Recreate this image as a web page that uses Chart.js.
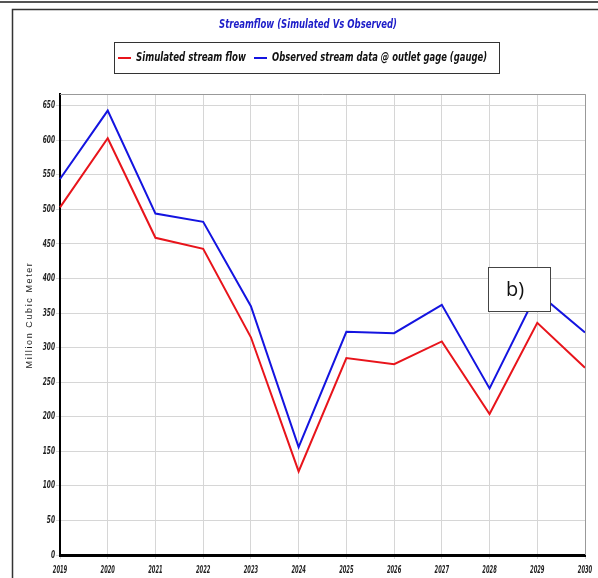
<!DOCTYPE html>
<html>
<head>
<meta charset="utf-8">
<script src="https://cdn.jsdelivr.net/npm/chart.js@4.4.1/dist/chart.umd.min.js"></script>
<style>
  html, body { margin: 0; padding: 0; background: #fff; }
  #wrap { width: 598px; height: 578px; }
</style>
</head>
<body>
<div id="wrap"><canvas id="flowChart" width="598" height="578"></canvas></div>
<script>
const years = ['2019', '2020', '2021', '2022', '2023', '2024', '2025', '2026', '2027', '2028', '2029', '2030'];
const simulated = [503, 603, 459, 443, 315, 121, 285, 276, 309, 204, 336, 271];
const observed = [544, 643, 494, 482, 360, 156, 323, 321, 362, 241, 380, 322];

const chartTitle = 'Streamflow (Simulated Vs Observed)';
const yTitle = 'Million Cubic Meter';
const panelLabel = 'b)';

const narrow = "'DejaVu Sans Condensed', 'Liberation Sans', sans-serif";

// the source uses a very narrow face, so text is squeezed with fillText's maxWidth
function squeeze(ctx, text, x, y, perChar) {
    const w = ctx.measureText(text).width;
    ctx.fillText(text, x, y, Math.min(w, text.length * perChar));
}

const decorations = {
    id: 'decorations',
    beforeDraw(chart) {
        const ctx = chart.ctx;
        ctx.save();
        ctx.fillStyle = '#fff';
        ctx.fillRect(0, 0, chart.width, chart.height);
        ctx.strokeStyle = '#555';
        ctx.lineWidth = 2;
        ctx.beginPath();
        ctx.moveTo(0, 2); ctx.lineTo(chart.width, 2);
        ctx.stroke();
        ctx.lineWidth = 1.5;
        ctx.strokeStyle = '#333';
        ctx.beginPath();
        ctx.moveTo(chart.width, 9.5); ctx.lineTo(12.5, 9.5); ctx.lineTo(12.5, chart.height);
        ctx.stroke();
        ctx.restore();
    },
    afterDraw(chart) {
        const ctx = chart.ctx;
        const a = chart.chartArea;
        ctx.save();

        // top and right edges of the plot
        ctx.strokeStyle = '#999';
        ctx.lineWidth = 1;
        ctx.beginPath();
        ctx.moveTo(a.left, a.top + 0.5); ctx.lineTo(a.right + 0.5, a.top + 0.5); ctx.lineTo(a.right + 0.5, a.bottom);
        ctx.stroke();

        // tick labels, placed by the scales
        ctx.fillStyle = '#222';
        ctx.font = "italic bold 10px " + narrow;
        ctx.textBaseline = 'middle';
        const xs = chart.scales.x;
        ctx.textAlign = 'center';
        xs.ticks.forEach((t, i) => {
            squeeze(ctx, xs.getLabelForValue(t.value), xs.getPixelForTick(i), 570, 3.6);
        });
        const ys = chart.scales.y;
        ctx.textAlign = 'right';
        ys.ticks.forEach((t, i) => {
            squeeze(ctx, String(t.value), 55, ys.getPixelForTick(i), 4.1);
        });

        // title
        ctx.fillStyle = '#1c1cc8';
        ctx.font = "italic bold 13px " + narrow;
        ctx.textAlign = 'center';
        ctx.fillText(chartTitle, 308, 25, 178);

        // legend
        ctx.strokeStyle = '#333';
        ctx.lineWidth = 1;
        ctx.strokeRect(114.5, 42.5, 385, 31);
        ctx.font = "italic bold 12px " + narrow;
        ctx.textAlign = 'left';
        const legendX = [118, 254];
        const legendW = [110, 215];
        chart.data.datasets.forEach((ds, i) => {
            const x = legendX[i];
            ctx.strokeStyle = ds.borderColor;
            ctx.lineWidth = 2;
            ctx.beginPath();
            ctx.moveTo(x, 58); ctx.lineTo(x + 13, 58);
            ctx.stroke();
            ctx.fillStyle = '#111';
            ctx.fillText(ds.label, x + 18, 58, legendW[i]);
        });

        // y axis title
        ctx.save();
        ctx.translate(30, 315);
        ctx.rotate(-Math.PI / 2);
        ctx.font = "9px 'Liberation Sans', sans-serif";
        ctx.letterSpacing = '1.6px';
        ctx.fillStyle = '#222';
        ctx.textAlign = 'center';
        ctx.fillText(yTitle, 0, 0);
        ctx.restore();

        // b) label
        ctx.fillStyle = '#fff';
        ctx.fillRect(488, 267, 62, 44);
        ctx.strokeStyle = '#444';
        ctx.lineWidth = 1;
        ctx.strokeRect(488.5, 267.5, 62, 44);
        ctx.fillStyle = '#111';
        ctx.font = "20px 'Open Sans', 'Liberation Sans', sans-serif";
        ctx.textAlign = 'center';
        ctx.fillText(panelLabel, 515, 290);

        ctx.restore();
    }
};

const ctx = document.getElementById('flowChart').getContext('2d');
new Chart(ctx, {
    type: 'line',
    data: {
        labels: years,
        datasets: [
            {
                label: 'Simulated stream flow',
                data: simulated,
                borderColor: '#e8141b',
                borderWidth: 2,
                pointRadius: 0,
                tension: 0,
                fill: false,
            },
            {
                label: 'Observed stream data @ outlet gage (gauge)',
                data: observed,
                borderColor: '#1414e0',
                borderWidth: 2,
                pointRadius: 0,
                tension: 0,
                fill: false,
            }
        ]
    },
    options: {
        responsive: false,
        animation: false,
        devicePixelRatio: 1,
        layout: { padding: { top: 94, right: 13, left: 0, bottom: 0 } },
        plugins: {
            legend: { display: false },
            title: { display: false },
            tooltip: { enabled: false }
        },
        scales: {
            x: {
                offset: false,
                afterFit(scale) { scale.height = 23; },
                grid: { color: '#d6d6d6', lineWidth: 1, tickLength: 4 },
                border: { color: '#000', width: 3 },
                ticks: { display: false, autoSkip: false, maxRotation: 0 }
            },
            y: {
                min: 0,
                max: 667,
                afterFit(scale) { scale.width = 60; },
                grid: { color: '#d6d6d6', lineWidth: 1, tickLength: 4 },
                border: { color: '#000', width: 2 },
                ticks: { display: false, stepSize: 50, includeBounds: false }
            }
        }
    },
    plugins: [decorations]
});
</script>
</body>
</html>
